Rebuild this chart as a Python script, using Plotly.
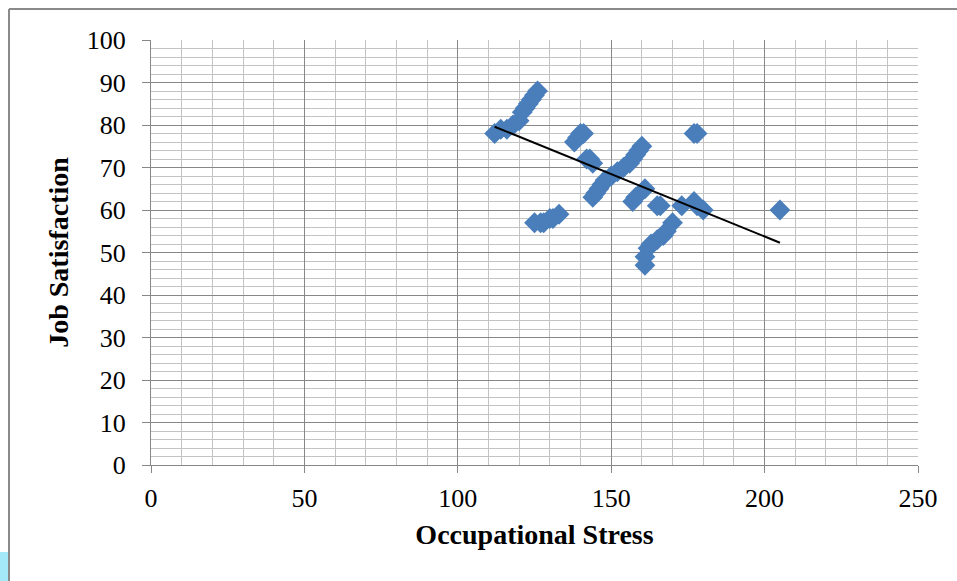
import plotly.graph_objects as go

# Occupational Stress (x) vs Job Satisfaction (y)
stress = [112, 114, 116, 118, 120, 121, 122, 123, 124, 125, 126,
          125, 127, 128, 130, 131, 133,
          138, 139, 140, 141, 142, 143, 144,
          144, 145, 146, 147, 148, 150, 152, 154, 156, 157, 158, 159, 160,
          157, 158, 161, 165, 166, 173, 177, 178, 180,
          161, 161, 162, 163, 165, 167, 168, 170,
          177, 178, 205]
satisfaction = [78, 79, 79, 80, 81, 83, 84, 85, 86, 87, 88,
                57, 57, 57, 58, 58, 59,
                76, 77, 78, 78, 72, 72, 71,
                63, 64, 65, 66, 67, 68, 69, 70, 71, 72, 73, 74, 75,
                62, 63, 65, 61, 61, 61, 62, 61, 60,
                47, 49, 51, 52, 53, 54, 55, 57,
                78, 78, 60]

trend_x = [112, 205]
trend_y = [79.6, 52.3]

x_ticks = [0, 50, 100, 150, 200, 250]
y_ticks = [0, 10, 20, 30, 40, 50, 60, 70, 80, 90, 100]

FONT = "Liberation Serif"
MAJOR = "#878787"
MINOR = "#c3c3c3"

fig = go.Figure()
fig.add_trace(go.Scatter(
    x=stress, y=satisfaction, mode="markers",
    marker=dict(symbol="diamond", size=16, color="#4A7EBB", line=dict(width=0)),
    showlegend=False, hoverinfo="x+y"))
fig.add_trace(go.Scatter(
    x=trend_x, y=trend_y, mode="lines",
    line=dict(color="black", width=2), showlegend=False))

fig.update_layout(
    width=957, height=581,
    margin=dict(l=151, r=39, t=40, b=116),
    paper_bgcolor="white", plot_bgcolor="white",
    font=dict(family=FONT, size=26, color="black"),
    xaxis=dict(
        range=[0, 250], tickvals=x_ticks, ticktext=[str(v) for v in x_ticks],
        showgrid=True, gridcolor=MAJOR, gridwidth=1,
        minor=dict(dtick=10, showgrid=True, gridcolor=MINOR, gridwidth=1, ticks=""),
        showline=True, linecolor=MAJOR, linewidth=1,
        ticks="outside", ticklen=7, tickcolor=MAJOR, ticklabelstandoff=3,
        zeroline=False, mirror=False,
        title=dict(text="<b>Occupational Stress</b>", font=dict(family=FONT, size=28), standoff=12),
    ),
    yaxis=dict(
        range=[0, 100], tickvals=y_ticks, ticktext=[str(v) for v in y_ticks],
        showgrid=True, gridcolor=MAJOR, gridwidth=1,
        minor=dict(dtick=2, showgrid=True, gridcolor=MINOR, gridwidth=1, ticks=""),
        showline=True, linecolor=MAJOR, linewidth=1,
        ticks="outside", ticklen=8, tickcolor=MAJOR, ticklabelstandoff=11,
        zeroline=False,
        title=dict(text="<b>Job Satisfaction</b>", font=dict(family=FONT, size=28), standoff=9),
    ),
)

# outer chart frame (top and left edges visible) and the cyan corner artifact
def px_x(p):
    return (p - 151) / 767.0

def px_y(p):
    return (465 - p) / 425.0

fig.add_shape(type="line", xref="paper", yref="paper",
              x0=px_x(9), x1=px_x(957), y0=px_y(9), y1=px_y(9),
              line=dict(color="#8a8a8a", width=2))
fig.add_shape(type="line", xref="paper", yref="paper",
              x0=px_x(9), x1=px_x(9), y0=px_y(9), y1=px_y(581),
              line=dict(color="#8a8a8a", width=2))
fig.add_shape(type="rect", xref="paper", yref="paper",
              x0=px_x(0), x1=px_x(8), y0=px_y(552), y1=px_y(581),
              fillcolor="#a3e9fa", line=dict(width=0))

fig.write_html("out.html", config={"displayModeBar": False},
               post_script="document.body.style.margin='0';document.body.style.overflow='hidden';")
